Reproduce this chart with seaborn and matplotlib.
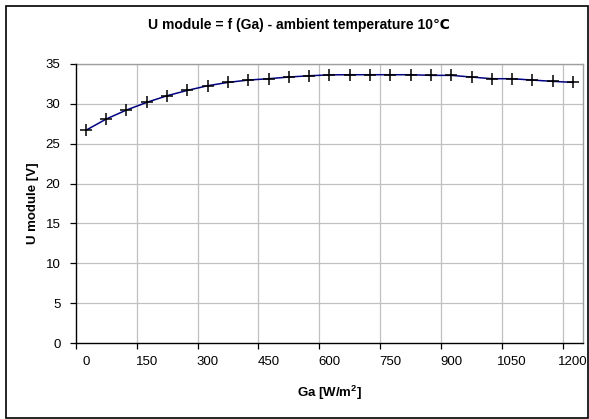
import matplotlib
matplotlib.use("Agg")
import matplotlib.pyplot as plt
from matplotlib.patches import Rectangle
from matplotlib.ticker import FixedLocator, FixedFormatter
import seaborn as sns
import pandas as pd

# Data
irradiance = [0, 50, 100, 150, 200, 250, 300, 350, 400, 450, 500, 550, 600,
              650, 700, 750, 800, 850, 900, 950, 1000, 1050, 1100, 1150, 1200]
u_module = [26.66, 28.07, 29.2, 30.16, 30.99, 31.66, 32.24, 32.66, 32.95, 33.12,
            33.33, 33.49, 33.6, 33.62, 33.62, 33.62, 33.62, 33.54, 33.54, 33.33,
            33.12, 33.12, 32.95, 32.79, 32.66]
x_labels = [0, 150, 300, 450, 600, 750, 900, 1050, 1200]
y_ticks = [0, 5, 10, 15, 20, 25, 30, 35]

df = pd.DataFrame({"Ga": irradiance, "U": u_module})

sns.set_theme(style="white")
plt.rcParams["font.family"] = ["Liberation Sans", "DejaVu Sans"]

W, H = 589, 419
fig = plt.figure(figsize=(W / 100, H / 100), dpi=100)
fig.patch.set_facecolor("white")

left, right, top, bottom = 75.7, 583.2, 63.7, 343.3
ax = fig.add_axes([left / W, 1 - bottom / H, (right - left) / W, (bottom - top) / H])

sns.lineplot(data=df, x="Ga", y="U", ax=ax, color="#000080", linewidth=1.1,
             marker="+", markersize=8.5, markeredgecolor="black",
             markeredgewidth=1.1, zorder=3)

ax.set_xlim(-25, 1225)
ax.set_ylim(0, 35)

# category-style x axis: labels at categories, ticks/grid between categories
ax.xaxis.set_major_locator(FixedLocator(x_labels))
ax.xaxis.set_major_formatter(FixedFormatter([str(v) for v in x_labels]))
ax.xaxis.set_minor_locator(FixedLocator([-25 + 150 * k for k in range(9)]))
ax.tick_params(axis="x", which="major", length=0, pad=9, labelsize=9.5, colors="black")
ax.tick_params(axis="x", which="minor", length=4, width=0.9, color="black", direction="out", bottom=True)
ax.grid(False)
for k in range(1, 9):
    ax.axvline(-25 + 150 * k, color="#c0c0c0", linewidth=0.9, zorder=1)

ax.set_yticks(y_ticks)
ax.tick_params(axis="y", which="major", length=4, width=0.9, color="black", direction="out",
               left=True, pad=7, labelsize=9.5, labelcolor="black")
for v in y_ticks[1:]:
    ax.axhline(v, color="#c0c0c0", linewidth=0.9, zorder=1)

for s in ["left", "bottom"]:
    ax.spines[s].set_color("black")
    ax.spines[s].set_linewidth(1.0)
for s in ["top", "right"]:
    ax.spines[s].set_color("#a0a0a0")
    ax.spines[s].set_linewidth(1.0)
ax.spines["left"].set_zorder(4)
ax.spines["bottom"].set_zorder(4)

ax.set_xlabel("Ga [W/m$^{\\mathregular{2}}$]", fontsize=9.5, fontweight="bold", color="black")
ax.set_ylabel("U module [V]", fontsize=9.5, fontweight="bold", color="black")
ax.xaxis.set_label_coords(0.5, -0.145)
ax.yaxis.set_label_coords(-0.072, 0.5)

fig.text(299 / W, 1 - 25 / H, "U module = f (Ga) - ambient temperature 10℃",
         ha="center", va="center", fontsize=10, fontweight="bold", color="black")

# chart outer border
fig.patches.append(Rectangle((6 / W, 1 - 417.7 / H), (588 - 6) / W, (417.7 - 6) / H,
                             transform=fig.transFigure, fill=False,
                             edgecolor="black", linewidth=1.2))

fig.savefig("out.png", dpi=100)
